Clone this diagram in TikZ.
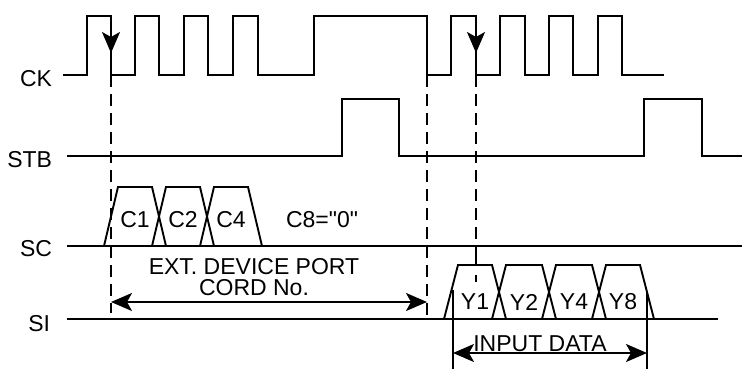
\documentclass[tikz,border=0pt]{standalone}
\usepackage{fontspec}
\setmainfont{Liberation Sans}[Ligatures=TeXOff]
\usetikzlibrary{arrows.meta}

\begin{document}
\begin{tikzpicture}[x=1pt,y=-1pt,line width=1.9pt,
        tip/.tip={Stealth[length=21pt,width=18pt,inset=5pt]},
        sig/.style={anchor=east,inner sep=0pt,font=\fontsize{23}{21}\selectfont},
        lbl/.style={inner sep=0pt,align=center,font=\fontsize{23}{21}\selectfont},
        guide/.style={dash pattern=on 12pt off 7pt}]
        \useasboundingbox (0,0) rectangle (742,369);
        \node[sig] (ck) at (53,79) {CK};
        \node[sig] (stb) at (53,160) {STB};
        \node[sig] (sc) at (53,249) {SC};
        \node[sig] (si) at (51,324) {SI};

        \draw (63,75) foreach \a/\b in {87/111,135/159,184/208,233/258,314/427,451/476,500/525,549/573,598/622}
                { -- (\a,75) -- (\a,16) -- (\b,16) -- (\b,75) } -- (664,75);
        \draw (67,156) -| (342,99) -| (399,156) -| (644,99) -| (702,156) -- (742,156);
        \draw (67,246) -- (742,246);
        \draw (67,319) -- (718,319);

        \foreach \a/\b/\t in {111/159/C1,159/207/C2,207/255/C4}{
                \draw (\a-7,246) -- (\a+7,187) -- (\b-7,187) -- (\b+7,246);
                \node[lbl] (\t) at ({(\a+\b)/2},220) {\t};
        }
        \node[lbl] (c8) at (322,220) {C8="0"};
        \foreach \a/\b/\t in {451/499/Y1,499/549/Y2,549/599/Y4,599/647/Y8}{
                \draw (\a-7,319) -- (\a+7,265) -- (\b-7,265) -- (\b+7,319);
                \node[lbl] (\t) at ({(\a+\b)/2},302) {\t};
        }

        \draw[guide] (111,75) -- (111,313);
        \draw[guide] (427,75) -- (427,316);
        \draw[guide] (476,75) -- (476,246);
        \draw (476,246) -- (476,265) (476,275) -- (476,282);
        \draw[-tip] (111,16) -- (111,53);
        \draw[-tip] (476,16) -- (476,53);

        \coordinate (e1) at (111,302);
        \coordinate (e2) at (427,302);
        \draw[tip-tip] (e1) -- (e2);
        \node[lbl] (ext) at (254,277) {EXT. DEVICE PORT\\CORD No.};

        \draw (453,290) -- (453,369) (647,292) -- (647,369);
        \coordinate (d1) at (453,353);
        \coordinate (d2) at (647,353);
        \draw[tip-tip] (d1) -- (d2);
        \node[lbl,anchor=base] (in) at (540,351) {INPUT DATA};
\end{tikzpicture}
\end{document}
